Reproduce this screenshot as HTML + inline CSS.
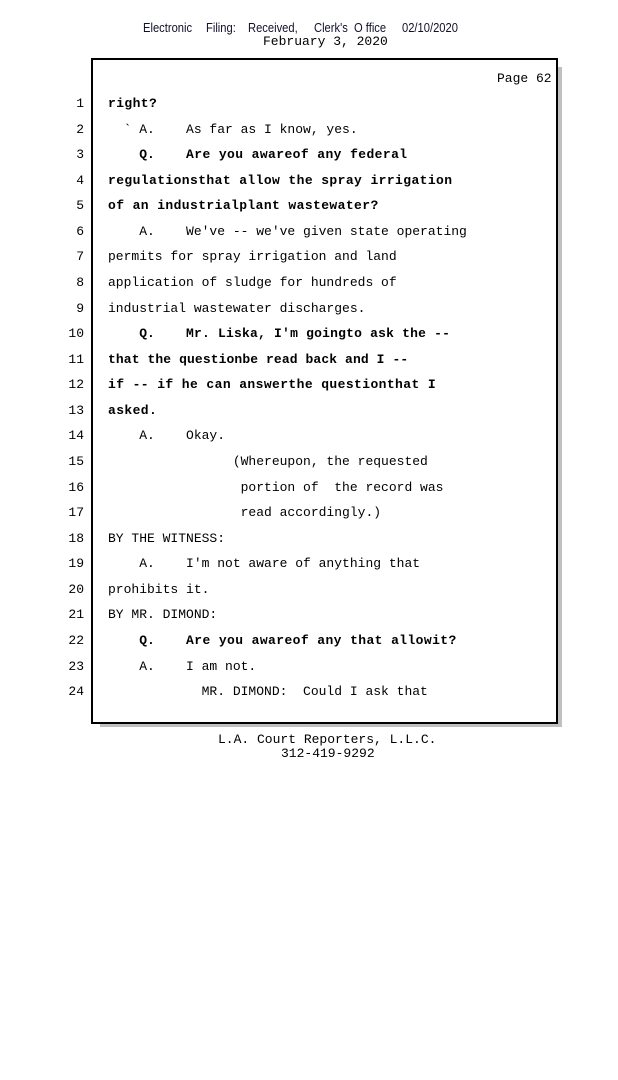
<!DOCTYPE html>
<html>
<head>
<meta charset="utf-8">
<style>
html,body{margin:0;padding:0;background:#fff;}
body{width:618px;height:800px;position:relative;overflow:hidden;}
.hw{position:absolute;top:21px;font-family:"Liberation Sans Narrow","Liberation Sans",sans-serif;font-size:13px;color:#10102a;transform-origin:0 0;white-space:pre;line-height:14px;}
.mono{font-family:"Liberation Mono","DejaVu Sans Mono",monospace;font-size:13px;color:#000;white-space:pre;}
.shadow{position:absolute;left:100px;top:67px;width:462px;height:660px;background:#c0c0c0;}
.box{position:absolute;left:91px;top:58px;width:463px;height:662px;border:2px solid #000;background:#fff;}
.num{position:absolute;left:40px;width:44px;text-align:right;height:26px;line-height:26px;}
.t{position:absolute;left:108px;height:26px;line-height:26px;}
b{font-weight:bold;letter-spacing:0.4px;}
</style>
</head>
<body>
<div class="hw" style="left:143px;transform:scaleX(0.86)">Electronic</div>
<div class="hw" style="left:206px;transform:scaleX(0.86)">Filing:</div>
<div class="hw" style="left:248px;transform:scaleX(0.86)">Received,</div>
<div class="hw" style="left:314px;transform:scaleX(0.86)">Clerk's</div>
<div class="hw" style="left:354px;transform:scaleX(0.86)">O ffice</div>
<div class="hw" style="left:402px;transform:scaleX(0.86)">02/10/2020</div>
<div class="mono" style="position:absolute;left:263px;top:34px;line-height:16px;">February 3, 2020</div>

<div class="shadow"></div>
<div class="box"></div>

<div class="mono" style="position:absolute;left:497px;top:71px;line-height:16px;">Page 62</div>

<div class="mono">
<div class="num" style="top:91px">1</div>
<div class="t" style="top:91px"><b>right?</b></div>

<div class="num" style="top:116.6px">2</div>
<div class="t" style="top:116.6px">  ` A.    As far as I know, yes.</div>

<div class="num" style="top:142.1px">3</div>
<div class="t" style="top:142.1px">    <b style="letter-spacing:0">Q.</b>    <b>Are you awareof any federal</b></div>

<div class="num" style="top:167.7px">4</div>
<div class="t" style="top:167.7px"><b>regulationsthat allow the spray irrigation</b></div>

<div class="num" style="top:193.3px">5</div>
<div class="t" style="top:193.3px"><b>of an industrialplant wastewater?</b></div>

<div class="num" style="top:218.8px">6</div>
<div class="t" style="top:218.8px">    A.    We've -- we've given state operating</div>

<div class="num" style="top:244.4px">7</div>
<div class="t" style="top:244.4px">permits for spray irrigation and land</div>

<div class="num" style="top:270px">8</div>
<div class="t" style="top:270px">application of sludge for hundreds of</div>

<div class="num" style="top:295.5px">9</div>
<div class="t" style="top:295.5px">industrial wastewater discharges.</div>

<div class="num" style="top:321.1px">10</div>
<div class="t" style="top:321.1px">    <b style="letter-spacing:0">Q.</b>    <b style="letter-spacing:0.2px">Mr. Liska, I'm goingto ask the --</b></div>

<div class="num" style="top:346.7px">11</div>
<div class="t" style="top:346.7px"><b style="letter-spacing:0.1px">that the questionbe read back and I --</b></div>

<div class="num" style="top:372.2px">12</div>
<div class="t" style="top:372.2px"><b style="letter-spacing:0.4px">if -- if he can answerthe questionthat I</b></div>

<div class="num" style="top:397.8px">13</div>
<div class="t" style="top:397.8px"><b>asked.</b></div>

<div class="num" style="top:423.4px">14</div>
<div class="t" style="top:423.4px">    A.    Okay.</div>

<div class="num" style="top:448.9px">15</div>
<div class="t" style="top:448.9px">                (Whereupon, the requested</div>

<div class="num" style="top:474.5px">16</div>
<div class="t" style="top:474.5px">                 portion of  the record was</div>

<div class="num" style="top:500.1px">17</div>
<div class="t" style="top:500.1px">                 read accordingly.)</div>

<div class="num" style="top:525.6px">18</div>
<div class="t" style="top:525.6px">BY THE WITNESS:</div>

<div class="num" style="top:551.2px">19</div>
<div class="t" style="top:551.2px">    A.    I'm not aware of anything that</div>

<div class="num" style="top:576.8px">20</div>
<div class="t" style="top:576.8px">prohibits it.</div>

<div class="num" style="top:602.3px">21</div>
<div class="t" style="top:602.3px">BY MR. DIMOND:</div>

<div class="num" style="top:627.9px">22</div>
<div class="t" style="top:627.9px">    <b style="letter-spacing:0">Q.</b>    <b>Are you awareof any that allowit?</b></div>

<div class="num" style="top:653.5px">23</div>
<div class="t" style="top:653.5px">    A.    I am not.</div>

<div class="num" style="top:679px">24</div>
<div class="t" style="top:679px">            MR. DIMOND:  Could I ask that</div>
</div>

<div class="mono" style="position:absolute;left:218px;top:732px;line-height:16px;">L.A. Court Reporters, L.L.C.</div>
<div class="mono" style="position:absolute;left:281px;top:746px;line-height:16px;">312-419-9292</div>
</body>
</html>
